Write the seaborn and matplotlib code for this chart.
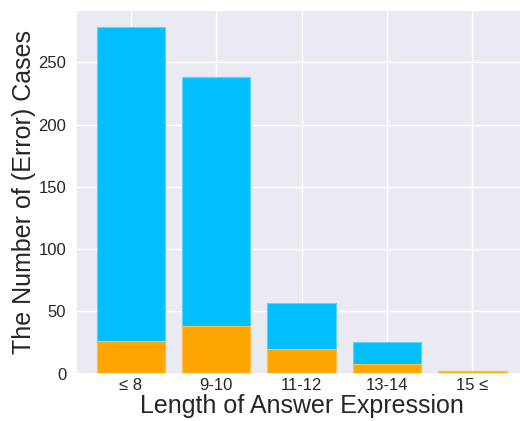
import matplotlib
matplotlib.use("Agg")
import matplotlib.pyplot as plt
import seaborn as sns
import pandas as pd

categories = ["≤ 8", "9-10", "11-12", "13-14", "15 ≤"]
total_cases = [278, 238, 57, 25, 2]
error_cases = [26, 38, 20, 8, 2]

sns.set_theme(style="darkgrid")
plt.rcParams["font.family"] = ["Liberation Sans", "DejaVu Sans"]

df = pd.DataFrame({"cat": categories, "total": total_cases, "error": error_cases})

fig = plt.figure(figsize=(5.2, 4.21), dpi=100)
ax = fig.add_axes([76 / 520, (421 - 373.5) / 421, (527 - 76) / 520, (373.5 - 10) / 421])

sns.barplot(data=df, x="cat", y="total", color="#00BFFF", saturation=1, width=0.8,
            edgecolor="#5fd3ff", linewidth=0.8, ax=ax)
sns.barplot(data=df, x="cat", y="error", color="#FFA500", saturation=1, width=0.8,
            edgecolor="#ffc04d", linewidth=0.8, ax=ax)

ax.set_xlim(-0.64, 4.64)
ax.set_ylim(0, 292)
ax.set_yticks([0, 50, 100, 150, 200, 250])
ax.set_xlabel("Length of Answer Expression", fontsize=18, color="#262626", labelpad=1)
ax.set_ylabel("The Number of (Error) Cases", fontsize=18, color="#262626", labelpad=2)
ax.tick_params(axis="x", labelsize=12, colors="#262626", length=0, pad=3)
ax.tick_params(axis="y", labelsize=12, colors="#262626", length=0, pad=7)
ax.grid(True, color="white", linewidth=1.0)

fig.savefig("out.png", dpi=100)
